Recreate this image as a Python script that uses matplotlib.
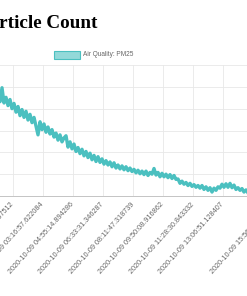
import numpy as np
import pandas as pd
import matplotlib
matplotlib.use("Agg")
import matplotlib.pyplot as plt
from matplotlib.patches import Rectangle

# --- data ---
tick_labels = [
    "2020-10-09 01:38:40.097512",
    "2020-10-09 03:16:57.622084",
    "2020-10-09 04:55:14.894286",
    "2020-10-09 06:33:31.346287",
    "2020-10-09 08:11:47.318739",
    "2020-10-09 09:50:08.916862",
    "2020-10-09 11:28:30.843332",
    "2020-10-09 13:06:51.128407",
    "2020-10-09 15:56:55.418553",
]

pm25 = [
    23.4, 21.6, 24.8, 21.3, 22.6, 20.7, 22.1, 20.0, 21.2, 19.2,
    20.5, 18.4, 19.8, 18.0, 19.4, 17.4, 18.7, 16.8, 18.0, 16.0,
    14.0, 17.0, 15.2, 16.5, 14.6, 15.8, 14.2, 15.2, 13.5, 14.4,
    12.8, 14.0, 12.4, 13.3, 13.8, 11.2, 12.4, 10.8, 11.9, 10.2,
    11.1, 9.7, 10.7, 9.2, 10.2, 8.8, 9.8, 8.3, 9.3, 7.9,
    9.0, 7.7, 8.5, 7.3, 8.1, 7.1, 7.8, 6.7, 7.6, 6.4,
    7.1, 6.2, 6.9, 6.0, 6.7, 5.8, 6.4, 5.6, 6.1, 5.3,
    5.9, 5.1, 5.7, 4.9, 5.7, 4.7, 5.4, 5.0, 6.3, 4.8,
    5.4, 4.4, 5.2, 4.4, 5.0, 4.2, 4.9, 4.0, 4.7, 3.8,
    3.9, 2.9, 3.4, 2.7, 3.1, 2.4, 2.9, 2.2, 2.6, 2.0,
    2.4, 1.8, 2.4, 1.5, 2.1, 1.3, 1.9, 0.9, 1.8, 1.3,
    2.1, 1.8, 2.7, 2.0, 2.8, 2.0, 2.9, 1.9, 2.5, 1.5,
    1.9, 1.3, 1.7, 0.9, 1.4, 0.7, 1.1, 0.7, 1.1, 0.7,
    1.1, 0.7, 1.1, 0.7, 1.1, 0.7, 1.1, 0.7, 1.1, 0.7,
]

# minutes since the first visible tick
tick_times = pd.to_datetime(tick_labels)
tick_pos = ((tick_times - tick_times[0]).total_seconds() / 60.0).values
t = np.linspace(-49.0, tick_pos[-1] + 3.3, len(pm25))

teal = "#4bc0c0"

fig = plt.figure(figsize=(2.47, 2.96), dpi=100)
ax = fig.add_axes([-60 / 247, 100 / 296, 335 / 247, 131 / 296])

ax.plot(t, pm25, color=teal, lw=2.4, solid_joinstyle="round")

ax.set_xlim(-239, tick_pos[-1])
ax.set_ylim(0, 30)
ax.set_yticks(np.arange(0, 31, 5))
ax.set_xticks(tick_pos)
ax.set_xticklabels(tick_labels, fontsize=5.2, color="#666666",
                   family="Liberation Sans")
for lab in ax.get_xticklabels():
    lab.set_rotation(48)
    lab.set_rotation_mode("anchor")
    lab.set_ha("right")
    lab.set_va("center")
ax.tick_params(axis="x", length=0, pad=5.5)
ax.tick_params(axis="y", length=0, labelleft=False)
ax.grid(True, color="#e8e8e8", lw=0.6)
for s in ["top", "right", "left"]:
    ax.spines[s].set_visible(False)
ax.spines["bottom"].set_color("#c4c4c4")
ax.spines["bottom"].set_linewidth(0.7)

# title (cropped on the left like the screenshot)
fig.text(-22 / 247, 1 - 28 / 296, "Particle Count", fontsize=13.8,
         fontweight="bold", family="Liberation Serif", va="baseline",
         ha="left")

# legend
fig.patches.append(Rectangle((54 / 247, 1 - 59 / 296), 26 / 247, 8 / 296,
                             transform=fig.transFigure, facecolor="#93d9d9",
                             edgecolor=teal, lw=0.8))
fig.text(83 / 247, 1 - 55 / 296, "Air Quality: PM25", fontsize=4.7,
         color="#666666", family="Liberation Sans", va="center", ha="left")

fig.savefig("out.png", dpi=100)
